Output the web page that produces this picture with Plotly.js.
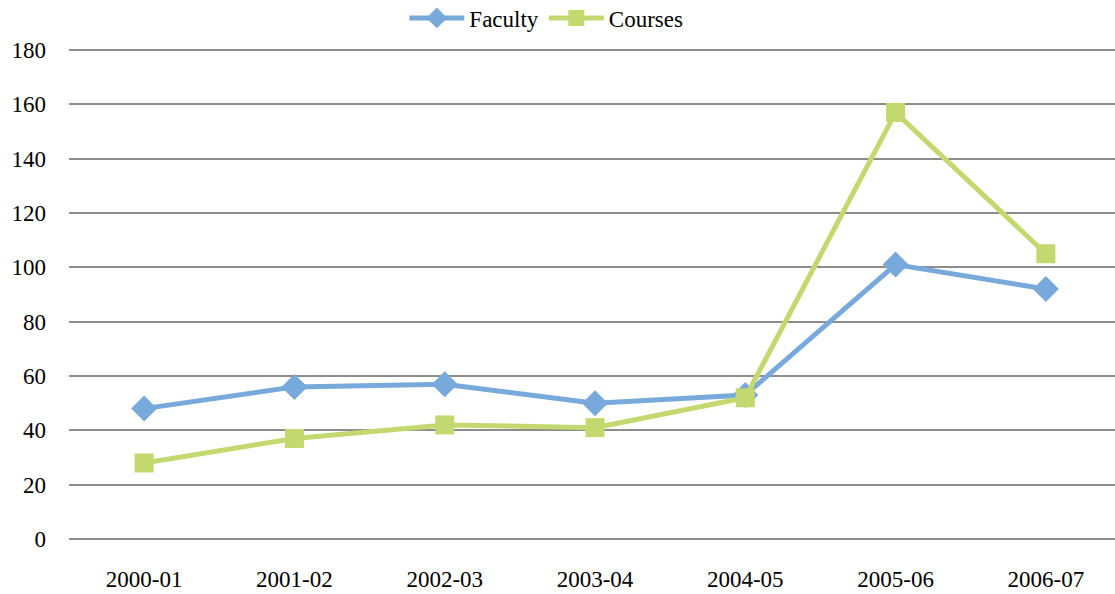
<!DOCTYPE html>
<html><head><meta charset="utf-8">
<script src="https://cdn.plot.ly/plotly-3.0.1.min.js"></script>
<style>html,body{margin:0;padding:0;background:#fff}#chart{width:1115px;height:594px}</style>
</head><body><div id="chart"></div>
<script>
const categories = ["2000-01","2001-02","2002-03","2003-04","2004-05","2005-06","2006-07"];
const faculty = [48, 56, 57, 50, 53, 101, 92];
const courses = [28, 37, 42, 41, 52, 157, 105];
const yTicks = [0,20,40,60,80,100,120,140,160,180];

const font = {family: "'Liberation Serif', 'DejaVu Serif', serif", size: 23, color: "#000"};
const gridColor = "#8c8c8c";
const traces = [
  {x: categories, y: faculty, name: "Faculty", type: "scatter", mode: "lines+markers",
   line: {color: "#77A9DA", width: 5}, marker: {symbol: "diamond", size: 20, color: "#77A9DA"}},
  {x: categories, y: courses, name: "Courses", type: "scatter", mode: "lines+markers",
   line: {color: "#C3D96F", width: 5}, marker: {symbol: "square", size: 19, color: "#C3D96F"}}
];
const edgeLines = [yTicks[0], yTicks[yTicks.length - 1]].map(v => ({
  type: "line", xref: "paper", yref: "y", x0: 0, x1: 1, y0: v, y1: v, layer: "below",
  line: {color: gridColor, width: 2}
}));
const layout = {
  width: 1115, height: 594,
  margin: {l: 69, r: 0, t: 49, b: 54},
  paper_bgcolor: "#fff", plot_bgcolor: "#fff",
  font: font,
  showlegend: true,
  legend: {orientation: "h", x: 0.49, xanchor: "center", y: 1 - 18/594, yanchor: "middle", xref: "container", yref: "container",
           font: font, itemwidth: 55, traceorder: "normal", tracegroupgap: 0},
  shapes: edgeLines,
  xaxis: {type: "category", range: [-0.5, 6.46], showgrid: false, zeroline: false, showline: false,
          ticks: "", tickfont: font, ticklabelstandoff: 23},
  yaxis: {range: [-0.35, 180.35], tickvals: yTicks, ticktext: yTicks.map(String), showgrid: true, gridcolor: gridColor, gridwidth: 2,
          zeroline: false, showline: false, ticks: "", tickfont: font, ticklabelstandoff: 22, fixedrange: true}
};
Plotly.newPlot("chart", traces, layout, {displayModeBar: false, staticPlot: true});
</script></body></html>
